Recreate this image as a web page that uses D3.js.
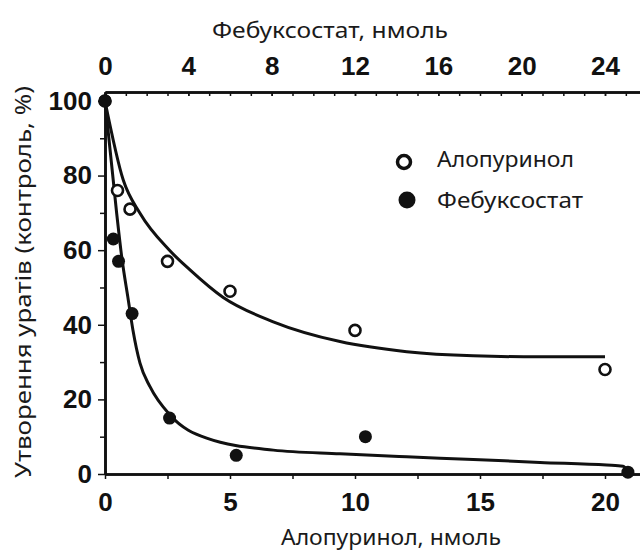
<!DOCTYPE html>
<html lang="uk">
<head>
<meta charset="UTF-8">
<title>Утворення уратів</title>
<script src="https://d3js.org/d3.v7.min.js"></script>
<style>
  body { margin: 0; background: #fff; }
  svg { display: block; }
  .tick text { font-family: "Liberation Sans", Arial, sans-serif; font-weight: bold; font-size: 26px; fill: #111; }
  .domain { stroke: #111; stroke-width: 2.6px; }
  .tick line { stroke: #111; stroke-width: 1.5px; }
  .label { font-family: "Noto Sans", sans-serif; font-size: 21px; fill: #1a1a1a; }
</style>
</head>
<body>
<svg width="640" height="552"></svg>
<script>
// measured points (alopurinol on bottom axis, febuxostat on top axis)
const aloDose = [0, 0.5, 1, 2.5, 5, 10, 20];
const aloUrate = [100, 76, 71, 57, 49, 38.5, 28];
const febDose = [0, 0.4, 0.65, 1.3, 3.1, 6.3, 12.5, 25.1];
const febUrate = [100, 63, 57, 43, 15, 5, 10, 0.5];

// fitted curves
const aloFitDose = [0, 0.73, 1.4, 2.56, 3.4, 4.73, 6.73, 9.4, 12.07, 14.73, 17.4, 20];
const aloFitUrate = [100, 78.8, 69.9, 60.1, 54.7, 47.3, 40.8, 35.5, 32.8, 31.7, 31.4, 31.4];
const febFitDose = [0, 0.56, 0.8, 1.12, 1.34, 1.68, 2.16, 3.12, 4.88, 8.08, 11.28, 14.48, 17.68, 20.88, 24.08, 24.87, 25.1];
const febFitUrate = [100, 69.9, 58.3, 46.6, 38.6, 29.7, 23.4, 15.8, 9.6, 6.4, 5.4, 4.6, 3.9, 3.1, 2.4, 2.1, 0.5];

const yTicks = [0, 20, 40, 60, 80, 100];
const yMinor = [10, 30, 50, 70, 90];
const xTicks = [0, 5, 10, 15, 20];
const xMinor = [2.5, 7.5, 12.5, 17.5];
const topTicks = [0, 4, 8, 12, 16, 20, 24];
const topMinor = d3.range(0, 26, 1);

const seriesNames = ["Алопуринол", "Фебуксостат"];

const svg = d3.select("svg");

const x = d3.scaleLinear().domain([0, 21.4]).range([105, 640]);
const xTop = d3.scaleLinear().domain([0, 25.68]).range([105, 640]);
const y = d3.scaleLinear().domain([0, 102.4]).range([474, 92]);

// axes
svg.append("g").attr("transform", "translate(105,0)")
    .call(d3.axisLeft(y).tickValues(yMinor).tickSize(5).tickSizeOuter(0).tickFormat(""));
svg.append("g").attr("transform", "translate(105,0)")
    .call(d3.axisLeft(y).tickValues(yTicks).tickSize(7).tickPadding(6).tickSizeOuter(0));

svg.append("g").attr("transform", "translate(0,474)")
    .call(d3.axisBottom(x).tickValues(xMinor).tickSize(5).tickSizeOuter(0).tickFormat(""));
svg.append("g").attr("transform", "translate(0,474)")
    .call(d3.axisBottom(x).tickValues(xTicks).tickSize(5).tickPadding(14).tickSizeOuter(0));

svg.append("g").attr("transform", "translate(0,92)")
    .call(d3.axisTop(xTop).tickValues(topMinor).tickSize(-4).tickSizeOuter(0).tickFormat(""));
svg.append("g").attr("transform", "translate(0,92)")
    .call(d3.axisTop(xTop).tickValues(topTicks).tickSize(-4).tickPadding(17).tickSizeOuter(0));

// curves
const aloLine = d3.line().x(i => x(aloFitDose[i])).y(i => y(aloFitUrate[i])).curve(d3.curveMonotoneX);
const febLine = d3.line().x(i => xTop(febFitDose[i])).y(i => y(febFitUrate[i])).curve(d3.curveMonotoneX);

svg.append("path")
    .attr("d", aloLine(d3.range(aloFitDose.length)))
    .attr("fill", "none").attr("stroke", "#111").attr("stroke-width", 3);
svg.append("path")
    .attr("d", febLine(d3.range(febFitDose.length)))
    .attr("fill", "none").attr("stroke", "#111").attr("stroke-width", 3);

// points
svg.selectAll(".alo").data(aloDose).enter().append("circle")
    .attr("class", "alo")
    .attr("cx", d => x(d))
    .attr("cy", (d, i) => y(aloUrate[i]))
    .attr("r", 5.5)
    .attr("fill", "#fff").attr("stroke", "#111").attr("stroke-width", 2.6);

svg.selectAll(".feb").data(febDose).enter().append("circle")
    .attr("class", "feb")
    .attr("cx", d => xTop(d))
    .attr("cy", (d, i) => y(febUrate[i]))
    .attr("r", 6.5)
    .attr("fill", "#111");

// legend
const legend = svg.append("g");
legend.append("circle").attr("cx", 404).attr("cy", 162).attr("r", 6.5)
    .attr("fill", "#fff").attr("stroke", "#111").attr("stroke-width", 3.5);
legend.append("circle").attr("cx", 407).attr("cy", 200).attr("r", 8.5).attr("fill", "#111");
legend.selectAll("text").data(seriesNames).enter().append("text")
    .attr("class", "label")
    .attr("x", 437)
    .attr("y", (d, i) => i === 0 ? 167 : 208)
    .attr("textLength", (d, i) => i === 0 ? 137 : 146)
    .attr("lengthAdjust", "spacingAndGlyphs")
    .text(d => d);

// axis titles
svg.append("text").attr("class", "label")
    .attr("x", 330).attr("y", 38).attr("text-anchor", "middle")
    .attr("textLength", 236).attr("lengthAdjust", "spacingAndGlyphs")
    .text("Фебуксостат, нмоль");
svg.append("text").attr("class", "label")
    .attr("x", 391).attr("y", 545).attr("text-anchor", "middle")
    .attr("textLength", 220).attr("lengthAdjust", "spacingAndGlyphs")
    .text("Алопуринол, нмоль");
svg.append("text").attr("class", "label")
    .attr("transform", "translate(31,282) rotate(-90)")
    .attr("text-anchor", "middle")
    .attr("textLength", 392).attr("lengthAdjust", "spacingAndGlyphs")
    .text("Утворення уратів (контроль, %)");
</script>
</body>
</html>
